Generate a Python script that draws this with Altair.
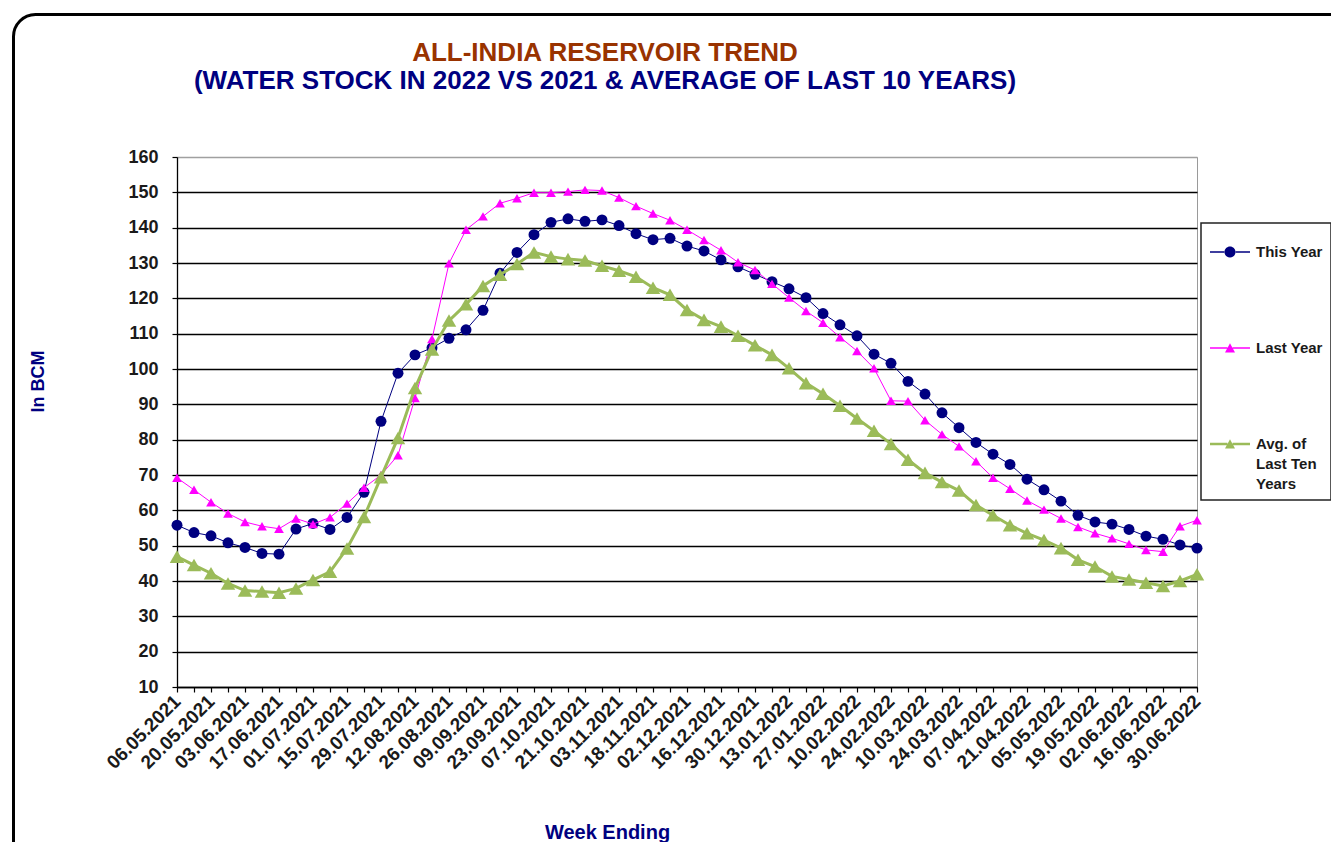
import json
import altair as alt
import pandas as pd

tick_labels = ["06.05.2021", "20.05.2021", "03.06.2021", "17.06.2021", "01.07.2021",
               "15.07.2021", "29.07.2021", "12.08.2021", "26.08.2021", "09.09.2021",
               "23.09.2021", "07.10.2021", "21.10.2021", "03.11.2021", "18.11.2021",
               "02.12.2021", "16.12.2021", "30.12.2021", "13.01.2022", "27.01.2022",
               "10.02.2022", "24.02.2022", "10.03.2022", "24.03.2022", "07.04.2022",
               "21.04.2022", "05.05.2022", "19.05.2022", "02.06.2022", "16.06.2022",
               "30.06.2022"]

this_year = [55.8, 53.7, 52.8, 50.8, 49.5, 47.8, 47.6, 54.7, 56.3, 54.6,
             58.0, 65.1, 85.2, 98.8, 104.0, 106.0, 108.7, 111.1, 116.6, 127.1,
             133.0, 138.0, 141.5, 142.5, 141.8, 142.2, 140.6, 138.3, 136.6, 137.0,
             134.8, 133.4, 130.9, 128.9, 126.8, 124.7, 122.7, 120.2, 115.7, 112.5,
             109.4, 104.2, 101.6, 96.5, 92.9, 87.6, 83.4, 79.2, 75.9, 73.0,
             68.8, 65.8, 62.6, 58.6, 56.7, 56.1, 54.6, 52.7, 51.8, 50.2, 49.3]

last_year = [69.2, 65.8, 62.3, 59.1, 56.7, 55.5, 54.8, 57.7, 56.1, 58.0,
             61.9, 66.4, 70.0, 75.6, 91.8, 108.5, 129.9, 139.4, 143.2, 146.9,
             148.3, 149.9, 149.9, 150.2, 150.7, 150.5, 148.5, 146.1, 144.0, 142.1,
             139.4, 136.5, 133.6, 130.2, 128.0, 124.1, 120.2, 116.4, 113.1, 109.0,
             105.1, 100.2, 91.0, 90.9, 85.5, 81.5, 78.1, 73.9, 69.2, 66.1,
             62.8, 60.2, 57.7, 55.3, 53.5, 52.1, 50.5, 48.8, 48.3, 55.5, 57.2]

avg_ten = [46.9, 44.5, 42.2, 39.3, 37.3, 37.0, 36.7, 37.9, 40.3, 42.6,
           49.2, 58.1, 69.4, 80.5, 94.6, 105.5, 113.7, 118.3, 123.5, 126.7,
           129.7, 133.0, 131.8, 131.1, 130.7, 129.2, 127.8, 126.1, 123.0, 121.0,
           116.7, 113.9, 112.0, 109.4, 106.7, 104.0, 100.2, 96.0, 93.0, 89.6,
           86.0, 82.5, 78.8, 74.3, 70.6, 68.0, 65.6, 61.5, 58.6, 55.8,
           53.5, 51.6, 49.3, 46.0, 44.1, 41.3, 40.4, 39.5, 38.6, 40.0, 41.9]

series_names = ["This Year", "Last Year", "Avg. of Last Ten Years"]
series_colors = ["#000080", "#FF00FF", "#9BBB59"]

rows = []
for name, vals in zip(series_names, [this_year, last_year, avg_ten]):
    for i, v in enumerate(vals):
        rows.append({"idx": i, "value": v, "series": name})
df = pd.DataFrame(rows)

label_expr = ("datum.value % 2 == 0 ? " + json.dumps(tick_labels) +
              "[datum.value / 2] : ''")

x_enc = alt.X("idx:Q",
              scale=alt.Scale(domain=[0, 60], nice=False, zero=False),
              axis=alt.Axis(values=list(range(61)), labelExpr=label_expr,
                            labelAngle=315, labelAlign="right", labelBaseline="middle",
                            labelFontSize=19, labelPadding=6, tickSize=5,
                            labelOverlap=False, grid=False,
                            title="Week Ending", titleX=430, titleY=145,
                            titleFontSize=20, titleColor="#000080",
                            titleAlign="center", titleBaseline="middle"))
y_enc = alt.Y("value:Q",
              scale=alt.Scale(domain=[10, 160], nice=False, zero=False),
              axis=alt.Axis(values=list(range(10, 161, 10)), labelFontSize=18,
                            labelPadding=14, tickSize=5, grid=True,
                            gridColor={"condition": {"test": "datum.value == 160",
                                                     "value": "#a0a0a0"},
                                       "value": "#000000"},
                            gridWidth=1.3,
                            title="In BCM", titleX=-139, titleY=224, titleAngle=270,
                            titleFontSize=18, titleColor="#000080",
                            titleAlign="center", titleBaseline="middle"))

base = alt.Chart(df)

frame = alt.Chart(pd.DataFrame({"f": [0]})).mark_rect(
    fillOpacity=0, stroke="black", strokeWidth=3, cornerRadius=22
).encode(x=alt.value(-163.5), x2=alt.value(1185), y=alt.value(-142.5), y2=alt.value(730))

styles = {
    "This Year": dict(width=1, shape="circle", size=120),
    "Last Year": dict(width=1, shape="triangle-up", size=95),
    "Avg. of Last Ten Years": dict(width=3, shape="triangle-up", size=210),
}

layers = [frame]
for name, color in zip(series_names, series_colors):
    st = styles[name]
    sub = base.transform_filter(alt.datum.series == name)
    layers.append(sub.mark_line(color=color, strokeWidth=st["width"]).encode(x=x_enc, y=y_enc))
    layers.append(sub.mark_point(filled=True, color=color, shape=st["shape"],
                                 size=st["size"], opacity=1).encode(x=x_enc, y=y_enc))

legend_paths = [
    "M-1,-0.035H-0.26V0.035H-1Z M0.26,-0.035H1V0.035H0.26Z "
    "M-0.275,0A0.275,0.275 0 1,0 0.275,0A0.275,0.275 0 1,0 -0.275,0Z",
    "M-1,-0.035H-0.13V0.035H-1Z M0.13,-0.035H1V0.035H0.13Z M0,-0.24L0.25,0.22H-0.25Z",
    "M-1,-0.06H-0.13V0.06H-1Z M0.13,-0.06H1V0.06H0.13Z M0,-0.24L0.25,0.22H-0.25Z",
]
leg = alt.Legend(title=None, orient="none", legendX=1024, legendY=66,
                 labelExpr="datum.label == 'Avg. of Last Ten Years' ? "
                           "['Avg. of', 'Last Ten', 'Years'] : datum.label",
                 symbolSize=1600, rowPadding=67)
legend_layer = base.transform_filter("false").mark_point(
    filled=True, opacity=1, size=1600
).encode(
    x=x_enc, y=y_enc,
    color=alt.Color("series:N", scale=alt.Scale(domain=series_names, range=series_colors),
                    legend=leg),
    shape=alt.Shape("series:N", scale=alt.Scale(domain=series_names, range=legend_paths),
                    legend=leg),
)
layers.append(legend_layer)

chart = alt.layer(*layers).properties(
    width=1020, height=530,
    title=alt.TitleParams(
        text="ALL-INDIA RESERVOIR TREND",
        subtitle="(WATER STOCK IN 2022 VS 2021 & AVERAGE OF LAST 10 YEARS)",
        fontSize=26, subtitleFontSize=26, font="Liberation Sans", subtitleFont="Liberation Sans",
        fontWeight="bold", subtitleFontWeight="bold", color="#993300",
        subtitleColor="#000080", anchor="middle", frame="group", dx=-82,
        offset=-81, subtitlePadding=2),
    autosize=alt.AutoSizeParams(type="none"),
    padding={"left": 169, "top": 149, "right": 134, "bottom": 155},
).configure(
    font="Liberation Sans",
    background="white",
    style={"guide-label": {"lineHeight": 20}},
).configure_view(
    stroke="#9a9a9a", strokeWidth=1
).configure_axis(
    labelFont="Liberation Sans", labelFontWeight="bold", labelColor="#1a1a1a",
    titleFont="Liberation Sans", titleFontWeight="bold",
    domainColor="black", domainWidth=1.3, tickColor="black", tickWidth=1.2,
).configure_legend(
    padding=8, strokeColor="#222222", strokeWidth=1.5,
    labelFont="Liberation Sans", labelFontSize=15, labelFontWeight="bold",
    labelColor="#1a1a1a", labelOffset=5, labelLimit=200,
)

chart.save("out.html", embed_options={"renderer": "svg", "actions": False})
